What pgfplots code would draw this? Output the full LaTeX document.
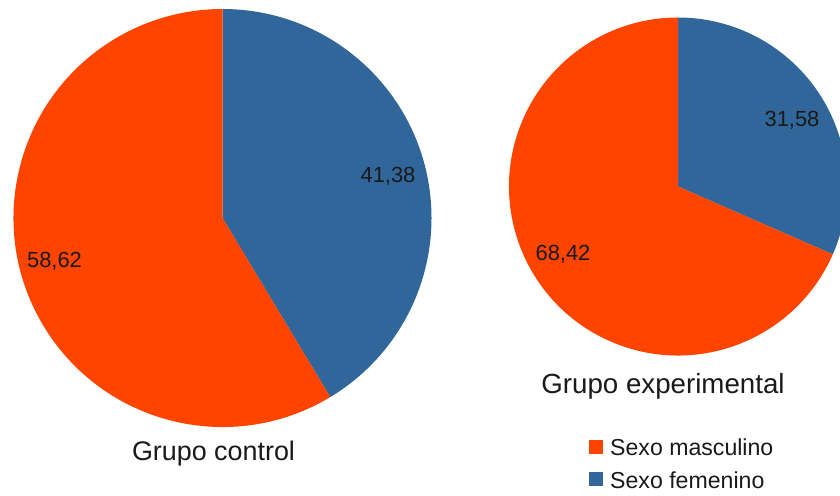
\documentclass[border=0pt]{standalone}
\usepackage{pgfplots}
\pgfplotsset{compat=1.18}
\usepackage{pgfplotstable}
\usepackage{fontspec}
\setmainfont{Liberation Sans}

\definecolor{masc}{HTML}{FF4400}
\definecolor{fem}{HTML}{306699}
\definecolor{txt}{HTML}{1A1A1A}

% Porcentajes por grupo; centro y radio de cada torta en pt del lienzo
\pgfplotstableread{
grupo        cx    cy    r    masc   fem
control      222.5 218   209  58.62  41.38
experimental 678   186.5 169  68.42  31.58
}\pies

\newcommand\leer[3]{%
  \pgfplotstablegetelem{#1}{#2}\of\pies
  \expandafter\edef\csname #3\endcsname{\pgfplotsretval}}
\leer{0}{cx}{cxA}\leer{0}{cy}{cyA}\leer{0}{r}{rA}\leer{0}{fem}{femA}\leer{0}{masc}{mascA}
\leer{1}{cx}{cxB}\leer{1}{cy}{cyB}\leer{1}{r}{rB}\leer{1}{fem}{femB}\leer{1}{masc}{mascB}
% el sector femenino empieza arriba y avanza en sentido horario
\pgfmathsetmacro\angA{90-3.6*\femA}
\pgfmathsetmacro\angB{90-3.6*\femB}

\begin{document}
\begin{tikzpicture}
\begin{axis}[
  name=main,
  width=840bp, height=495bp, scale only axis,
  xmin=0, xmax=840, ymin=0, ymax=495, y dir=reverse,
  hide axis, clip=true,
]
% Grupo control
\fill[fem]  (axis cs:\cxA,\cyA) -- ++(90:\rA bp)
  arc[start angle=90, end angle=\angA, radius=\rA bp] -- cycle;
\fill[masc] (axis cs:\cxA,\cyA) -- ++(\angA:\rA bp)
  arc[start angle=\angA, end angle=-270, radius=\rA bp] -- cycle;
% Grupo experimental
\fill[fem]  (axis cs:\cxB,\cyB) -- ++(90:\rB bp)
  arc[start angle=90, end angle=\angB, radius=\rB bp] -- cycle;
\fill[masc] (axis cs:\cxB,\cyB) -- ++(\angB:\rB bp)
  arc[start angle=\angB, end angle=-270, radius=\rB bp] -- cycle;

\begin{scope}[every node/.style={text=txt, inner sep=0pt}]
\node[anchor=base, font=\fontsize{22}{26}\selectfont] at (axis cs:54.5,267) {58,62};
\node[anchor=base, font=\fontsize{22}{26}\selectfont] at (axis cs:388,182) {41,38};
\node[anchor=base, font=\fontsize{22}{26}\selectfont] at (axis cs:563,260) {68,42};
\node[anchor=base, font=\fontsize{22}{26}\selectfont] at (axis cs:792,126.5) {31,58};

\node[anchor=base, font=\fontsize{27}{32}\selectfont] at (axis cs:213.5,460) {Grupo control};
\node[anchor=base, font=\fontsize{27.8}{32}\selectfont] at (axis cs:663,393) {Grupo experimental};

% leyenda
\fill[masc] (axis cs:588.5,439.5) rectangle (axis cs:603,453.5);
\fill[fem]  (axis cs:588.5,472)   rectangle (axis cs:603,486);
\node[anchor=base west, font=\fontsize{23.2}{26}\selectfont] at (axis cs:610,455.5) {Sexo masculino};
\node[anchor=base west, font=\fontsize{23.2}{26}\selectfont] at (axis cs:610,488.3) {Sexo femenino};
\end{scope}
\end{axis}
\pgfresetboundingbox
\useasboundingbox (main.south west) rectangle (main.north east);
\end{tikzpicture}
\end{document}
